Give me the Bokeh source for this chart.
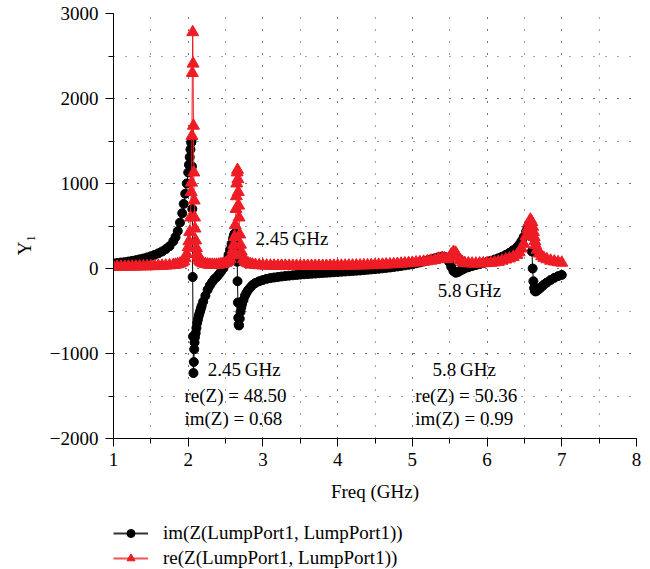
from bokeh.plotting import figure
from bokeh.layouts import column
from bokeh.models import Range1d, SingleIntervalTicker, Legend, LegendItem, Label
from bokeh.embed import file_html
from bokeh.resources import INLINE

FONT = "Liberation Serif"

freq = [
    1.00, 1.05, 1.10, 1.15, 1.20, 1.25, 1.30, 1.35, 1.40, 1.45,
    1.50, 1.55, 1.60, 1.65, 1.70, 1.75, 1.80, 1.83, 1.86, 1.89,
    1.92, 1.94, 1.96, 1.98, 2.00, 2.01, 2.02, 2.03, 2.04, 2.045,
    2.05, 2.055, 2.06, 2.065, 2.07, 2.075, 2.08, 2.085, 2.09, 2.10,
    2.11, 2.12, 2.13, 2.14, 2.15, 2.16, 2.17, 2.18, 2.20, 2.23,
    2.26, 2.29, 2.32,
    2.35, 2.38, 2.41, 2.44, 2.47, 2.50, 2.52, 2.54, 2.56, 2.58,
    2.60, 2.61, 2.62, 2.63, 2.64, 2.645, 2.65, 2.655, 2.66, 2.665,
    2.67, 2.675, 2.68, 2.69, 2.70, 2.71, 2.72, 2.74, 2.76, 2.78,
    2.80, 2.83, 2.86, 2.90, 2.95, 3.00, 3.05, 3.10, 3.15, 3.20,
    3.25, 3.30, 3.35, 3.40, 3.45, 3.50, 3.55, 3.60, 3.65, 3.70,
    3.75, 3.80, 3.85, 3.90, 3.95, 4.00, 4.05, 4.10, 4.15, 4.20,
    4.25, 4.30, 4.35, 4.40, 4.45, 4.50, 4.55, 4.60, 4.65, 4.70,
    4.75, 4.80, 4.85, 4.90, 4.95, 5.00, 5.05, 5.10, 5.15, 5.20,
    5.25, 5.30, 5.35, 5.40, 5.43, 5.46, 5.49, 5.52, 5.55, 5.58,
    5.61, 5.64, 5.67, 5.70, 5.75, 5.80, 5.85, 5.90, 5.95, 6.00,
    6.05, 6.10, 6.15, 6.20, 6.25, 6.30, 6.35, 6.40, 6.43, 6.46,
    6.49, 6.52, 6.54, 6.56, 6.58, 6.60, 6.61, 6.62, 6.63, 6.64,
    6.65, 6.67, 6.70, 6.73, 6.76, 6.80, 6.85, 6.90, 6.95, 7.00,
]

im_z = [
    60, 65, 70, 75, 82, 90, 98, 108, 118, 130,
    145, 160, 178, 200, 228, 262, 320, 370, 440, 540,
    650, 760, 880, 1000, 1130, 1220, 1310, 1400, 1480, 1500,
    1200, 700, -100, -800, -1230, -1100, -950, -870, -810, -760,
    -700, -640, -600, -560, -530, -500, -470, -440, -390, -320,
    -250, -200, -160,
    -125, -100, -70, -35, 0, 50, 100, 160, 220, 290,
    350, 385, 410, 415, 395, 360, 250, 80, -150, -400,
    -580, -660, -670, -590, -510, -460, -420, -370, -320, -285,
    -255, -225, -195, -170, -150, -135, -122, -113, -106, -100,
    -94, -89, -84, -80, -76, -72, -68, -65, -62, -59,
    -56, -53, -50, -47, -44, -41, -38, -35, -32, -29,
    -26, -23, -19, -15, -11, -7, -3, 2, 7, 12,
    18, 24, 30, 37, 44, 52, 61, 71, 82, 94,
    107, 120, 132, 140, 138, 120, 80, 20, -30, -50,
    -42, -27, -12, 0, 15, 28, 40, 52, 64, 76,
    90, 105, 120, 138, 160, 185, 215, 250, 280, 320,
    370, 430, 480, 500, 440, 200, 0, -150, -230, -265,
    -270, -260, -240, -215, -190, -165, -135, -110, -90, -75,
]

re_z = [
    20, 20, 21, 21, 22, 22, 23, 24, 25, 26,
    27, 28, 30, 32, 34, 37, 41, 45, 50, 58,
    70, 85, 120, 170, 250, 320, 430, 600, 900, 1010,
    1560, 2300, 2780, 2410, 1680, 1130, 800, 600, 470, 330,
    240, 180, 145, 120, 100, 88, 78, 70, 60, 52,
    47, 44, 43,
    43, 44, 46, 50, 56, 65, 75, 90, 115, 155,
    220, 280, 370, 510, 700, 850, 1000, 1130, 1160, 1050,
    900, 740, 600, 400, 280, 200, 155, 110, 85, 70,
    60, 52, 46, 42, 38, 35, 34, 33, 33, 32,
    32, 32, 31, 31, 31, 31, 31, 31, 31, 31,
    31, 31, 31, 32, 32, 32, 33, 33, 34, 34,
    35, 36, 37, 38, 39, 41, 43, 45, 47, 49,
    51, 54, 57, 60, 63, 67, 71, 75, 80, 85,
    92, 100, 115, 125, 118, 110, 120, 165, 195, 185,
    140, 100, 75, 65, 60, 58, 58, 59, 61, 64,
    67, 72, 78, 92, 105, 118, 135, 160, 190, 235,
    290, 380, 460, 540, 575, 545, 490, 430, 370, 320,
    275, 220, 175, 145, 125, 108, 92, 82, 74, 68,
]

series_labels = ["im(Z(LumpPort1, LumpPort1))", "re(Z(LumpPort1, LumpPort1))"]
y_ticks_minus = {-1000: "\u22121000", -2000: "\u22122000"}

BLACK = "#000000"
RED = "#ee1c25"
NAN = float("nan")

p = figure(width=650, height=510, output_backend="svg", toolbar_location=None,
           x_range=Range1d(1, 8), y_range=Range1d(-2000, 3000),
           min_border_left=113, min_border_right=14, min_border_top=13,
           min_border_bottom=72)
p.outline_line_color = None
p.background_fill_color = "white"
p.border_fill_color = "white"

xt = SingleIntervalTicker(interval=1, num_minor_ticks=2)
yt = SingleIntervalTicker(interval=1000, num_minor_ticks=2)
p.xaxis.ticker = xt
p.yaxis.ticker = yt
p.xgrid.ticker = xt
p.ygrid.ticker = yt

for g in (p.xgrid, p.ygrid):
    g.grid_line_color = "#444444"
    g.grid_line_dash = "1 11"
    g.grid_line_width = 1
    g.minor_grid_line_color = "#444444"
    g.minor_grid_line_dash = "1 11"
    g.minor_grid_line_width = 1

for ax in (p.xaxis, p.yaxis):
    ax.axis_line_color = "black"
    ax.major_tick_line_color = "black"
    ax.minor_tick_line_color = "black"
    ax.major_tick_out = 8
    ax.major_tick_in = 0
    ax.minor_tick_out = 5
    ax.minor_tick_in = 0
    ax.major_label_text_font = FONT
    ax.major_label_text_font_size = "19px"
    ax.major_label_text_color = "black"
    ax.axis_label_text_font = FONT
    ax.axis_label_text_font_size = "19px"
    ax.axis_label_text_font_style = "normal"
    ax.axis_label_text_color = "black"

p.xaxis.axis_label = "Freq (GHz)"
p.yaxis.axis_label = "Y\u2081" + "\u00a0" * 8
p.xaxis.major_label_standoff = 6
p.yaxis.major_label_standoff = 7
p.xaxis.axis_label_standoff = 12
p.yaxis.axis_label_standoff = 12
p.yaxis.major_label_overrides = y_ticks_minus

# data
p.line(freq, im_z, line_color=BLACK, line_width=1)
p.scatter(freq, im_z, marker="circle", size=9, fill_color=BLACK, line_color=BLACK)
p.line(freq, re_z, line_color=RED, line_width=1)
p.scatter(freq, re_z, marker="triangle", size=12, fill_color=RED, line_color=RED)

ann = [
    (2.90, 353, "2.45\u2009GHz"),
    (5.34, -259, "5.8\u2009GHz"),
    (2.26, -1188, "2.45\u2009GHz"),
    (1.95, -1494, "re(Z) = 48.50"),
    (1.95, -1765, "im(Z) = 0.68"),
    (5.27, -1188, "5.8\u2009GHz"),
    (5.04, -1494, "re(Z) = 50.36"),
    (5.04, -1765, "im(Z) = 0.99"),
]
for x, y, t in ann:
    p.add_layout(Label(x=x, y=y, text=t, text_font=FONT, text_font_size="19px",
                       text_baseline="middle", text_color="black"))

# legend panel below the chart
lg = figure(width=650, height=59, output_backend="svg", toolbar_location=None,
            x_range=Range1d(0, 1), y_range=Range1d(0, 1),
            min_border_left=0, min_border_right=0, min_border_top=0,
            min_border_bottom=0, x_axis_type=None, y_axis_type=None)
lg.outline_line_color = None
lg.xgrid.visible = False
lg.ygrid.visible = False
lg.background_fill_color = "white"
lg.border_fill_color = "white"

lb_line = lg.line([NAN], [NAN], line_color="#333333", line_width=2)
lb_mark = lg.scatter([NAN], [NAN], marker="circle", size=7, fill_color=BLACK, line_color=BLACK)
lr_line = lg.line([NAN], [NAN], line_color="#f05555", line_width=2)
lr_mark = lg.scatter([NAN], [NAN], marker="triangle", size=8, fill_color=RED, line_color=RED)

legend = Legend(items=[LegendItem(label=series_labels[0], renderers=[lb_line, lb_mark]),
                       LegendItem(label=series_labels[1], renderers=[lr_line, lr_mark])],
                location=(0, 0), orientation="vertical",
                background_fill_alpha=0, border_line_color=None,
                padding=0, margin=0, spacing=3,
                glyph_width=35, glyph_height=20, label_height=20,
                label_standoff=15,
                label_text_font=FONT, label_text_font_size="19px",
                label_text_color="black")
lg.add_layout(legend, "center")

layout = column(p, lg, spacing=0)
open("out.html", "w").write(file_html(layout, INLINE))
